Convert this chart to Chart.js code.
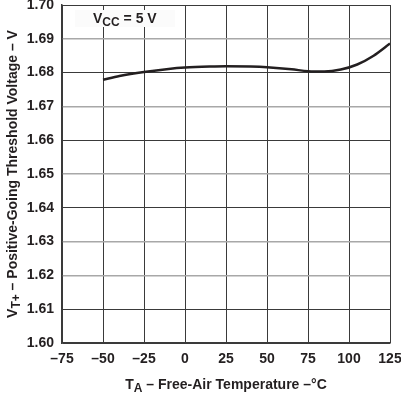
<!DOCTYPE html>
<html>
<head>
<meta charset="utf-8">
<script src="https://cdn.jsdelivr.net/npm/chart.js@4"></script>
<style>
  html, body { margin: 0; padding: 0; background: #fff; }
  #wrap { width: 401px; height: 395px; position: relative; }
</style>
</head>
<body>
<div id="wrap"><canvas id="myChart" width="401" height="395"></canvas></div>
<script>
// datos
const temps = [-50, -40, -25, -10, 0, 15, 25, 40, 50, 65, 75, 85, 95, 105, 115, 125];
const vth = [1.6779, 1.6790, 1.6802, 1.6811, 1.6815, 1.6818, 1.6819, 1.6818, 1.6816, 1.6810, 1.6804, 1.6803, 1.6809, 1.6824, 1.6850, 1.6886];
const xTicks = [-75, -50, -25, 0, 25, 50, 75, 100, 125];
const yTicks = [1.60, 1.61, 1.62, 1.63, 1.64, 1.65, 1.66, 1.67, 1.68, 1.69, 1.70];
// lineas de rejilla que se ven mas claras en el original
const lightRows = [1.62, 1.63, 1.65, 1.67, 1.69];

const fontFam = "'Liberation Sans', Arial, sans-serif";
const textColor = "#231f20";

// dibuja texto con subindices
function drawParts(ctx, parts, x, y, align) {
    let total = 0;
    parts.forEach(p => {
        ctx.font = "bold " + (p.sub ? 12 : 14) + "px " + fontFam;
        p.w = ctx.measureText(p.t).width;
        total += p.w;
    });
    let cx = align === "center" ? x - total / 2 : x;
    parts.forEach(p => {
        ctx.font = "bold " + (p.sub ? 12 : 14) + "px " + fontFam;
        ctx.fillText(p.t, cx, p.sub ? y + 3 : y);
        cx += p.w;
    });
}

const labelsPlugin = {
    id: "labels",
    afterDraw(chart) {
        const ctx = chart.ctx;
        const area = chart.chartArea;
        ctx.save();
        ctx.fillStyle = textColor;
        ctx.textBaseline = "alphabetic";
        ctx.textAlign = "left";

        // titulo eje x
        drawParts(ctx, [{t: "T"}, {t: "A", sub: true}, {t: " – Free-Air Temperature –°C"}],
            (area.left + area.right) / 2, 389, "center");

        // titulo eje y
        ctx.save();
        ctx.translate(17, (area.top + area.bottom) / 2);
        ctx.rotate(-Math.PI / 2);
        drawParts(ctx, [{t: "V"}, {t: "T+", sub: true}, {t: " – Positive-Going Threshold Voltage – V"}],
            0, 0, "center");
        ctx.restore();

        // caja VCC
        ctx.fillStyle = "#fbfbfb";
        ctx.fillRect(75, 10, 100, 17);
        ctx.fillStyle = textColor;
        drawParts(ctx, [{t: "V"}, {t: "CC", sub: true}, {t: " = 5 V"}], 93, 23, "left");
        ctx.restore();
    }
};

new Chart("myChart", {
    type: "line",
    data: {
        datasets: [{
            data: temps.map((t, i) => ({x: t, y: vth[i]})),
            borderColor: "#231f20",
            borderWidth: 2.5,
            pointRadius: 0,
            cubicInterpolationMode: "monotone",
            fill: false
        }]
    },
    options: {
        responsive: false,
        animation: false,
        events: [],
        layout: { padding: { top: 5, right: 11, left: 0, bottom: 0 } },
        plugins: { legend: { display: false }, tooltip: { enabled: false } },
        scales: {
            x: {
                type: "linear",
                min: -75,
                max: 125,
                afterBuildTicks: s => { s.ticks = xTicks.map(v => ({value: v})); },
                afterFit: s => { s.height = 52; s.paddingLeft = 0; s.paddingRight = 0; },
                ticks: {
                    color: textColor,
                    font: { family: fontFam, size: 14, weight: "bold" },
                    padding: 8,
                    maxRotation: 0,
                    callback: v => String(v).replace("-", "–")
                },
                grid: { color: "#3a3a3a", lineWidth: 1, drawTicks: false },
                border: { color: "#3a3a3a", width: 1.5 }
            },
            y: {
                min: 1.60,
                max: 1.70,
                afterBuildTicks: s => { s.ticks = yTicks.map(v => ({value: v})); },
                afterFit: s => { s.width = 62; s.paddingTop = 0; s.paddingBottom = 0; },
                ticks: {
                    color: textColor,
                    font: { family: fontFam, size: 14, weight: "bold" },
                    padding: 8,
                    callback: v => v.toFixed(2)
                },
                grid: {
                    color: c => lightRows.some(r => Math.abs(r - c.tick.value) < 1e-6) ? "#a8a8a8" : "#3a3a3a",
                    lineWidth: c => lightRows.some(r => Math.abs(r - c.tick.value) < 1e-6) ? 1.5 : 1,
                    drawTicks: false
                },
                border: { color: "#3a3a3a", width: 1.5 }
            }
        }
    },
    plugins: [labelsPlugin]
});
</script>
</body>
</html>
